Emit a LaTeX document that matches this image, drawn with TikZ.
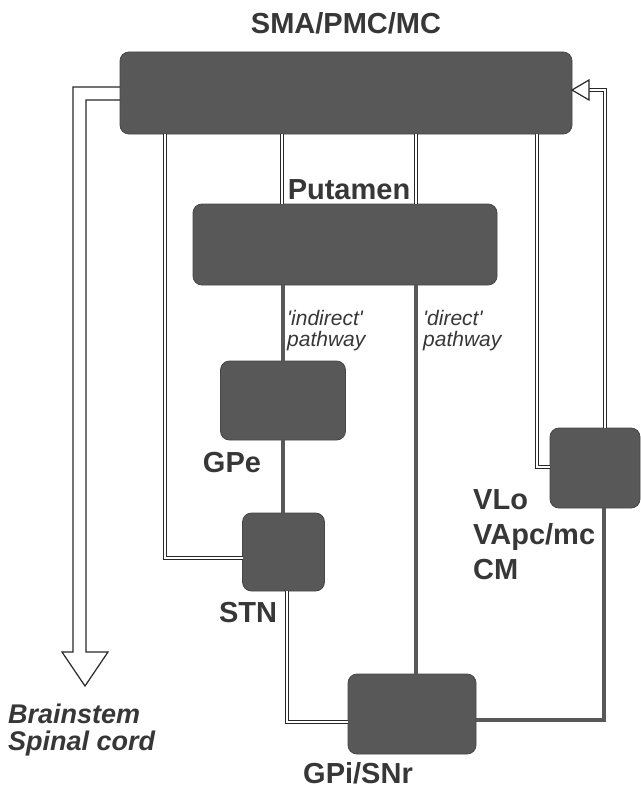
\documentclass[tikz,border=0pt]{standalone}
\usepackage{fontspec}
\setmainfont{Liberation Sans}
\definecolor{boxgray}{RGB}{88,88,88}
\definecolor{boxedge}{RGB}{70,70,70}
\definecolor{txtgray}{RGB}{55,55,55}
\definecolor{linegray}{RGB}{40,40,40}
\tikzset{
  region/.style={draw=boxedge, line width=0.8pt, fill=boxgray, rounded corners=9pt, inner sep=0pt, outer sep=0pt},
  lbl/.style={text=txtgray, font=\fontsize{29}{30}\selectfont\bfseries, inner sep=0pt},
  itl/.style={text=txtgray, font=\fontsize{21}{21}\selectfont\itshape, inner sep=0pt, align=left},
  dbl/.style={draw=linegray, line width=1pt, double=white, double distance=2.6pt},
  dark/.style={draw=boxgray, line width=4.5pt},
  shaftline/.style={draw=linegray, line width=1.2pt, line join=miter},
}
\begin{document}
\begin{tikzpicture}[x=1pt,y=-1pt]
\useasboundingbox[fill=white] (0,0) rectangle (640,789);

% regions
\node[region, minimum width=452pt, minimum height=82pt] (cortex) at (346,93) {};
\node[region, minimum width=304pt, minimum height=81pt] (putamen) at (345,244.5) {};
\node[region, minimum width=125pt, minimum height=79pt] (gpe) at (283,400.5) {};
\node[region, minimum width=82pt, minimum height=78pt] (stn) at (283.5,552) {};
\node[region, minimum width=128pt, minimum height=80pt] (gpi) at (412,714) {};
\node[region, minimum width=90pt, minimum height=80pt] (vl) at (595,468) {};

% labels
\node[lbl] (tcortex) at (346,23) {SMA/PMC/MC};
\node[lbl] (tput) at (349,190) {Putamen};
\node[lbl] (tgpe) at (232,463) {GPe};
\node[lbl] (tstn) at (248,613) {STN};
\node[lbl] (tgpi) at (358,773) {GPi/SNr};
\node[lbl, anchor=west, align=left, font=\fontsize{29}{35}\selectfont\bfseries] (tvl) at (473,535) {VLo\\VApc/mc\\CM};
\node[lbl, anchor=west, align=left, font=\fontsize{27}{27}\selectfont\bfseries\itshape] (tbs) at (8,730) {Brainstem\\Spinal cord};
\node[itl, anchor=west] (tind) at (287,331) {\textquotesingle indirect\textquotesingle\\pathway};
\node[itl, anchor=west] (tdir) at (423,331) {\textquotesingle direct\textquotesingle\\pathway};

% cortex -> putamen
\draw[dbl] ([xshift=-63pt]putamen.north |- cortex.south) -- ([xshift=-63pt]putamen.north);
\draw[dbl] ([xshift=71pt]putamen.north |- cortex.south) -- ([xshift=71pt]putamen.north);

% indirect pathway
\draw[dark] (putamen.south -| gpe.north) -- (gpe.north);
\draw[dark] (gpe.south) -- (gpe.south |- stn.north);

% direct pathway
\draw[dark] ([xshift=71pt]putamen.south) -- ([xshift=71pt]putamen.south |- gpi.north);

% cortex -> STN
\draw[dbl] ([xshift=45pt]cortex.south west) |- ([yshift=-6pt]stn.west);

% STN -> GPi
\draw[dbl] ([xshift=3.5pt]stn.south) |- ([yshift=-8pt]gpi.west);

% GPi -> thalamus
\draw[dark] ([yshift=-6pt]gpi.east) -| ([xshift=9pt]vl.south);

% thalamus -> cortex
\draw[dbl] ([yshift=1pt]vl.west) -| ([xshift=-35pt]cortex.south east);
\draw[dbl] ([xshift=10pt]vl.north) |- ([shift={(17pt,3pt)}]cortex.east);
\draw[shaftline, fill=white] ([yshift=3pt]cortex.east) -- ++(17pt,10pt) -- ++(0pt,-20pt) -- cycle;

% cortex -> brainstem
\coordinate (bsL) at (73,652);
\coordinate (bsR) at (86,652);
\coordinate (bsHL) at (62,652);
\coordinate (bsHR) at (108,652);
\coordinate (bsTip) at (85,686);
\draw[shaftline] ([yshift=6pt]cortex.west) -| (bsL) -- (bsHL) -- (bsTip) -- (bsHR) -- (bsR) |- ([yshift=-7pt]cortex.west);

\end{tikzpicture}
\end{document}
